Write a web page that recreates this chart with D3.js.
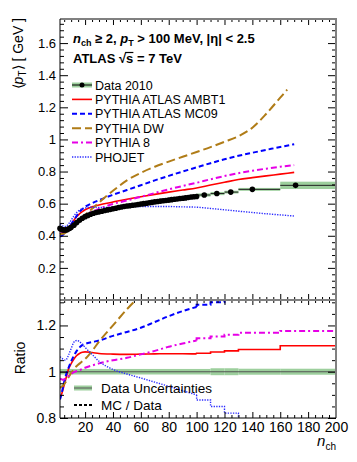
<!DOCTYPE html>
<html>
<head>
<meta charset="utf-8">
<script src="https://cdn.jsdelivr.net/npm/d3@7"></script>
<style>
  body { margin: 0; background: #fff; }
  svg { font-family: "Liberation Sans", Arial, Helvetica, sans-serif; }
</style>
</head>
<body>
<svg id="chart" width="357" height="462"></svg>
<script>
// ---- data ----
// Data 2010, single-n_ch points
var dataN  = [2,3,4,5,6,7,8,9,10,12,14,16,18,20,22,24,26,28,30,32,34,36,38,40,42,44,46,48,50,
              52,54,56,58,60,62,64,66,68,70,72,74,76,78,80,82,84,86,88,90,92,94,96,98,100];
var dataPt = [0.446,0.440,0.437,0.436,0.436,0.438,0.442,0.447,0.453,0.466,0.482,0.497,0.509,0.519,
              0.527,0.534,0.540,0.545,0.549,0.553,0.557,0.561,0.564,0.568,0.571,0.576,0.579,0.582,
              0.585,0.587,0.590,0.592,0.595,0.598,0.600,0.603,0.606,0.608,0.611,0.613,0.616,0.618,
              0.620,0.622,0.625,0.627,0.629,0.632,0.634,0.636,0.638,0.641,0.643,0.645];
var dataRelErr = 0.012;
// Data 2010, wide bins at high n_ch
var binLo  = [100,110,120,130,160];
var binHi  = [110,120,130,160,200];
var binN   = [105.5,114.5,124.5,140,171];
var binPt  = [0.654,0.663,0.672,0.689,0.714];
var binRelErr = [0.015,0.015,0.013,0.013,0.032];

// MC predictions (top panel)
var mcN    = [2,4,6,8,10,12,14,16,18,20,25,30,40,50,60,70,80,90,100,110,120,130,140,150,160,170];
var ambt1  = [0.410,0.420,0.428,0.443,0.470,0.497,0.520,0.537,0.551,0.562,0.580,0.592,0.610,0.628,
              0.643,0.658,0.672,0.685,0.698,0.716,0.733,0.750,0.762,0.773,0.784,0.795];
var mc09   = [0.395,0.405,0.425,0.447,0.472,0.497,0.525,0.550,0.566,0.580,0.603,0.622,0.655,0.685,
              0.715,0.745,0.773,0.800,0.826,0.852,0.876,0.898,0.917,0.935,0.953,0.970];
var py8    = [0.432,0.423,0.423,0.432,0.448,0.466,0.484,0.500,0.514,0.527,0.550,0.568,0.598,0.620,
              0.643,0.666,0.689,0.710,0.730,0.752,0.772,0.790,0.805,0.818,0.830,0.840];
var phojet = [0.472,0.462,0.458,0.472,0.497,0.524,0.545,0.560,0.568,0.573,0.578,0.576,0.578,0.580,
              0.582,0.582,0.582,0.580,0.578,0.570,0.562,0.553,0.545,0.537,0.530,0.523];
var dwN    = [2,4,6,8,10,12,14,16,18,20,25,30,40,50,60,70,80,90,100,110,120,130,140,150,160,165];
var dw     = [0.410,0.412,0.420,0.435,0.452,0.468,0.485,0.500,0.515,0.530,0.568,0.607,0.680,0.745,
              0.792,0.830,0.862,0.892,0.922,0.952,0.985,1.020,1.073,1.160,1.260,1.310];

// MC / Data ratios (bottom panel)
var ratioN  = [2,3,4,6,8,10,12,14,16,18,20,25,30,40,50,60,70,80,90,100];
var rAmbt1  = [0.89,0.90,0.92,0.965,1.01,1.035,1.055,1.07,1.079,1.084,1.086,1.083,1.079,1.076,1.075,1.076,1.077,1.078,1.078,1.077];
var rMc09   = [0.88,0.90,0.93,0.98,1.015,1.045,1.07,1.09,1.105,1.115,1.12,1.128,1.135,1.155,1.172,1.19,1.215,1.24,1.262,1.28];
var rDw     = [0.93,0.935,0.94,0.955,0.975,0.995,1.01,1.025,1.035,1.045,1.055,1.09,1.13,1.2,1.27,1.33,1.37,1.40,1.41,1.43];
var rPy8    = [0.97,0.968,0.965,0.97,0.98,0.99,0.998,1.003,1.007,1.012,1.017,1.027,1.036,1.05,1.06,1.075,1.09,1.108,1.122,1.135];
var rPhojet = [1.065,1.06,1.055,1.05,1.07,1.10,1.128,1.135,1.13,1.118,1.105,1.075,1.045,1.01,0.99,0.973,0.955,0.937,0.918,0.90];
// ratio in the wide bins (binLo..binHi)
var sAmbt1  = [1.080,1.085,1.090,1.096,1.112];
var sMc09   = [1.290,1.300,1.310,1.330,1.360];
var sDw     = [1.450,1.480,1.500,1.560,1.700];
var sPy8    = [1.145,1.152,1.160,1.168,1.176];
var sPhojet = [0.878,0.850,0.821,0.770,0.730];

var series = [
  {name: "PYTHIA ATLAS AMBT1", n: mcN, v: ambt1,  r: rAmbt1,  s: sAmbt1,  color: "#ff0000", dash: null,      w: 1.6},
  {name: "PYTHIA ATLAS MC09",  n: mcN, v: mc09,   r: rMc09,   s: sMc09,   color: "#0000ff", dash: "5,3",     w: 2},
  {name: "PYTHIA DW",          n: dwN, v: dw,     r: rDw,     s: sDw,     color: "#b07c17", dash: "9,4",     w: 2},
  {name: "PYTHIA 8",           n: mcN, v: py8,    r: rPy8,    s: sPy8,    color: "#e600e6", dash: "6,3,2,3", w: 2},
  {name: "PHOJET",             n: mcN, v: phojet, r: rPhojet, s: sPhojet, color: "#2a2aff", dash: "1.3,1.3", w: 1.4}
];

// ---- layout ----
var svg = d3.select("#chart");
var x    = d3.scaleLinear().domain([2, 200]).range([60, 336]);
var yTop = d3.scaleLinear().domain([0, 1.75]).range([300, 19]);
var yRat = d3.scaleLinear().domain([0.8, 1.31]).range([418, 300]);
var green = "#9dcf9d";

svg.append("defs").append("clipPath").attr("id", "ratioClip")
  .append("rect").attr("x", 60).attr("y", 300).attr("width", 276).attr("height", 118);

var gTop = svg.append("g");
var gBot = svg.append("g");

// ---- top panel: data band ----
var bandArea = d3.area()
    .x(function(d, i) { return x(dataN[i]); })
    .y0(function(d) { return yTop(d * (1 - dataRelErr)); })
    .y1(function(d) { return yTop(d * (1 + dataRelErr)); })
    .curve(d3.curveMonotoneX);
gTop.append("path").datum(dataPt).attr("d", bandArea).attr("fill", green);

gTop.selectAll("rect.bin").data(binPt).enter().append("rect")
  .attr("x", function(d, i) { return x(binLo[i]); })
  .attr("width", function(d, i) { return x(binHi[i]) - x(binLo[i]); })
  .attr("y", function(d, i) { return yTop(d * (1 + binRelErr[i])); })
  .attr("height", function(d, i) { return yTop(d * (1 - binRelErr[i])) - yTop(d * (1 + binRelErr[i])); })
  .attr("fill", green);

// ---- top panel: MC curves ----
series.forEach(function(s) {
  var line = d3.line()
      .x(function(d, i) { return x(s.n[i]); })
      .y(function(d) { return yTop(d); })
      .curve(d3.curveMonotoneX);
  gTop.append("path").datum(s.v).attr("d", line)
    .attr("fill", "none").attr("stroke", s.color).attr("stroke-width", s.w)
    .attr("stroke-dasharray", s.dash);
});

// ---- top panel: data points ----
gTop.selectAll("line.xerr").data(binPt).enter().append("line")
  .attr("x1", function(d, i) { return x(binLo[i]); })
  .attr("x2", function(d, i) { return x(binHi[i]); })
  .attr("y1", function(d) { return yTop(d); })
  .attr("y2", function(d) { return yTop(d); })
  .attr("stroke", "#222").attr("stroke-width", 1);
gTop.selectAll("circle.pt").data(dataPt).enter().append("circle")
  .attr("cx", function(d, i) { return x(dataN[i]); })
  .attr("cy", function(d) { return yTop(d); })
  .attr("r", 2.8).attr("fill", "#000");
gTop.selectAll("circle.bp").data(binPt).enter().append("circle")
  .attr("cx", function(d, i) { return x(binN[i]); })
  .attr("cy", function(d) { return yTop(d); })
  .attr("r", 2.8).attr("fill", "#000");

// ---- ratio panel ----
var rg = gBot.append("g").attr("clip-path", "url(#ratioClip)");
var relAll = [dataRelErr].concat(binRelErr);
var edges = [2].concat(binHi);
rg.selectAll("rect.rb").data(relAll).enter().append("rect")
  .attr("x", function(d, i) { return x(edges[i]); })
  .attr("width", function(d, i) { return x(edges[i + 1]) - x(edges[i]); })
  .attr("y", function(d) { return yRat(1 + d); })
  .attr("height", function(d) { return yRat(1 - d) - yRat(1 + d); })
  .attr("fill", green);
rg.append("line").attr("x1", x(2)).attr("x2", x(200)).attr("y1", yRat(1)).attr("y2", yRat(1))
  .attr("stroke", "#555").attr("stroke-width", 1.2);

series.forEach(function(s) {
  var smooth = d3.line()
      .x(function(d, i) { return x(ratioN[i]); })
      .y(function(d) { return yRat(d); })
      .curve(d3.curveMonotoneX);
  rg.append("path").datum(s.r).attr("d", smooth)
    .attr("fill", "none").attr("stroke", s.color).attr("stroke-width", s.w)
    .attr("stroke-dasharray", s.dash);
  var pts = [[binLo[0], s.r[s.r.length - 1]]];
  s.s.forEach(function(v, i) { pts.push([binLo[i], v]); pts.push([binHi[i], v]); });
  rg.append("path").datum(pts)
    .attr("d", d3.line().x(function(d) { return x(d[0]); }).y(function(d) { return yRat(d[1]); }))
    .attr("fill", "none").attr("stroke", s.color).attr("stroke-width", s.w)
    .attr("stroke-dasharray", s.dash);
});

// ---- axes ----
function ticks(g, axis, size) {
  g.call(axis);
  g.select(".domain").remove();
  g.selectAll(".tick line").attr("stroke", "#000");
  g.attr("font-family", null).attr("font-size", size || 10);
  g.selectAll(".tick text").attr("fill", "#000");
}
function minor(step, lo, hi, major) {
  return d3.range(lo, hi + step / 2, step).map(function(v) { return +v.toFixed(3); })
    .filter(function(v) { return major.indexOf(v) < 0; });
}
var xMajor = d3.range(20, 201, 20);
var xMinor = minor(5, 5, 195, xMajor);
var yTopMajor = [0.2, 0.4, 0.6, 0.8, 1, 1.2, 1.4, 1.6];
var yTopMinor = minor(0.04, 0.04, 1.72, yTopMajor);
var yRatMajor = [0.8, 1, 1.2];
var yRatMinor = [0.85, 0.9, 0.95, 1.05, 1.1, 1.15, 1.25, 1.3];
var fmt = d3.format("~g");

ticks(gTop.append("g").attr("transform", "translate(60,0)"),
  d3.axisLeft(yTop).tickValues(yTopMajor).tickSize(-8).tickPadding(4).tickFormat(fmt), 13);
ticks(gTop.append("g").attr("transform", "translate(60,0)"),
  d3.axisLeft(yTop).tickValues(yTopMinor).tickSize(-4).tickFormat(""));
ticks(gTop.append("g").attr("transform", "translate(336,0)"),
  d3.axisRight(yTop).tickValues(yTopMajor).tickSize(-8).tickFormat(""));
ticks(gTop.append("g").attr("transform", "translate(336,0)"),
  d3.axisRight(yTop).tickValues(yTopMinor).tickSize(-4).tickFormat(""));
ticks(gTop.append("g").attr("transform", "translate(0,300)"),
  d3.axisBottom(x).tickValues(xMajor).tickSize(-6).tickFormat(""));
ticks(gTop.append("g").attr("transform", "translate(0,300)"),
  d3.axisBottom(x).tickValues(xMinor).tickSize(-3).tickFormat(""));
ticks(gTop.append("g").attr("transform", "translate(0,19)"),
  d3.axisTop(x).tickValues(xMajor).tickSize(-6).tickFormat(""));
ticks(gTop.append("g").attr("transform", "translate(0,19)"),
  d3.axisTop(x).tickValues(xMinor).tickSize(-3).tickFormat(""));

ticks(gBot.append("g").attr("transform", "translate(60,0)"),
  d3.axisLeft(yRat).tickValues(yRatMajor).tickSize(-8).tickPadding(4).tickFormat(fmt), 14);
ticks(gBot.append("g").attr("transform", "translate(60,0)"),
  d3.axisLeft(yRat).tickValues(yRatMinor).tickSize(-4).tickFormat(""));
ticks(gBot.append("g").attr("transform", "translate(336,0)"),
  d3.axisRight(yRat).tickValues(yRatMajor).tickSize(-8).tickFormat(""));
ticks(gBot.append("g").attr("transform", "translate(336,0)"),
  d3.axisRight(yRat).tickValues(yRatMinor).tickSize(-4).tickFormat(""));
ticks(gBot.append("g").attr("transform", "translate(0,418)"),
  d3.axisBottom(x).tickValues(xMajor).tickSize(-6).tickPadding(4).tickFormat(fmt), 14);
ticks(gBot.append("g").attr("transform", "translate(0,418)"),
  d3.axisBottom(x).tickValues(xMinor).tickSize(-3).tickFormat(""));
ticks(gBot.append("g").attr("transform", "translate(0,300)"),
  d3.axisTop(x).tickValues(xMajor).tickSize(-5).tickFormat(""));
ticks(gBot.append("g").attr("transform", "translate(0,300)"),
  d3.axisTop(x).tickValues(xMinor).tickSize(-3).tickFormat(""));

// frame
var frame = svg.append("g").attr("fill", "none");
frame.append("path").attr("d", "M60,19H336V418").attr("stroke", "#808080").attr("stroke-width", 2);
frame.append("line").attr("x1", 60).attr("x2", 336).attr("y1", 300).attr("y2", 300)
  .attr("stroke", "#808080").attr("stroke-width", 2);
frame.append("path").attr("d", "M60,19V418H336").attr("stroke", "#000").attr("stroke-width", 1);

// ---- axis titles ----
var yt = svg.append("text").attr("transform", "translate(23,18) rotate(-90)")
  .attr("text-anchor", "end").attr("font-size", 14);
yt.append("tspan").text("\u27E8");
yt.append("tspan").attr("font-style", "italic").text("p");
yt.append("tspan").attr("font-size", 10).attr("dy", 3).text("T");
yt.append("tspan").attr("dy", -3).text("\u27E9 [ GeV ]");

svg.append("text").attr("transform", "translate(25,358) rotate(-90)")
  .attr("text-anchor", "middle").attr("font-size", 14).text("Ratio");

var xt = svg.append("text").attr("x", 336).attr("y", 446).attr("text-anchor", "end").attr("font-size", 15);
xt.append("tspan").attr("font-style", "italic").text("n");
xt.append("tspan").attr("font-size", 10).attr("dy", 4).text("ch");

// ---- labels ----
var t1 = svg.append("text").attr("x", 73).attr("y", 43).attr("font-size", 13).attr("font-weight", "bold");
t1.append("tspan").attr("font-style", "italic").text("n");
t1.append("tspan").attr("font-size", 9).attr("dy", 3).text("ch");
t1.append("tspan").attr("dy", -3).text(" \u2265 2, ");
t1.append("tspan").attr("font-style", "italic").text("p");
t1.append("tspan").attr("font-size", 9).attr("dy", 3).text("T");
t1.append("tspan").attr("dy", -3).text(" > 100 MeV, |\u03B7| < 2.5");

var t2 = svg.append("text").attr("x", 73).attr("y", 63).attr("font-size", 13).attr("font-weight", "bold")
  .text("ATLAS \u221As = 7 TeV");
var sx = 73 + t2.node().getSubStringLength(0, 7);
var sw = t2.node().getSubStringLength(7, 1);
svg.append("line").attr("x1", sx - 1).attr("x2", sx + sw).attr("y1", 52.5).attr("y2", 52.5)
  .attr("stroke", "#000").attr("stroke-width", 1.2);

// ---- legend (top) ----
var legY0 = 85, legDy = 14.4;
var lg = svg.append("g").attr("font-size", 12.5);
lg.append("rect").attr("x", 72).attr("y", legY0 - 2.5).attr("width", 20).attr("height", 5).attr("fill", green);
lg.append("line").attr("x1", 72).attr("x2", 92).attr("y1", legY0).attr("y2", legY0).attr("stroke", "#000");
lg.append("circle").attr("cx", 82).attr("cy", legY0).attr("r", 2.5).attr("fill", "#000");
lg.append("text").attr("x", 95).attr("y", legY0 + 4.5).text("Data 2010");
series.forEach(function(s, i) {
  var yy = legY0 + legDy * (i + 1);
  lg.append("line").attr("x1", 72).attr("x2", 92).attr("y1", yy).attr("y2", yy)
    .attr("stroke", s.color).attr("stroke-width", s.w).attr("stroke-dasharray", s.dash);
  lg.append("text").attr("x", 95).attr("y", yy + 4.5).text(s.name);
});

// ---- legend (ratio) ----
var lb = svg.append("g").attr("font-size", 13.5);
lb.append("rect").attr("x", 74).attr("y", 385.5).attr("width", 18).attr("height", 5).attr("fill", green);
lb.append("line").attr("x1", 74).attr("x2", 92).attr("y1", 388).attr("y2", 388).attr("stroke", "#555");
lb.append("text").attr("x", 101).attr("y", 393).text("Data Uncertainties");
lb.append("line").attr("x1", 74).attr("x2", 92).attr("y1", 405).attr("y2", 405)
  .attr("stroke", "#000").attr("stroke-width", 2).attr("stroke-dasharray", "3,2");
lb.append("text").attr("x", 101).attr("y", 410).text("MC / Data");
</script>
</body>
</html>
